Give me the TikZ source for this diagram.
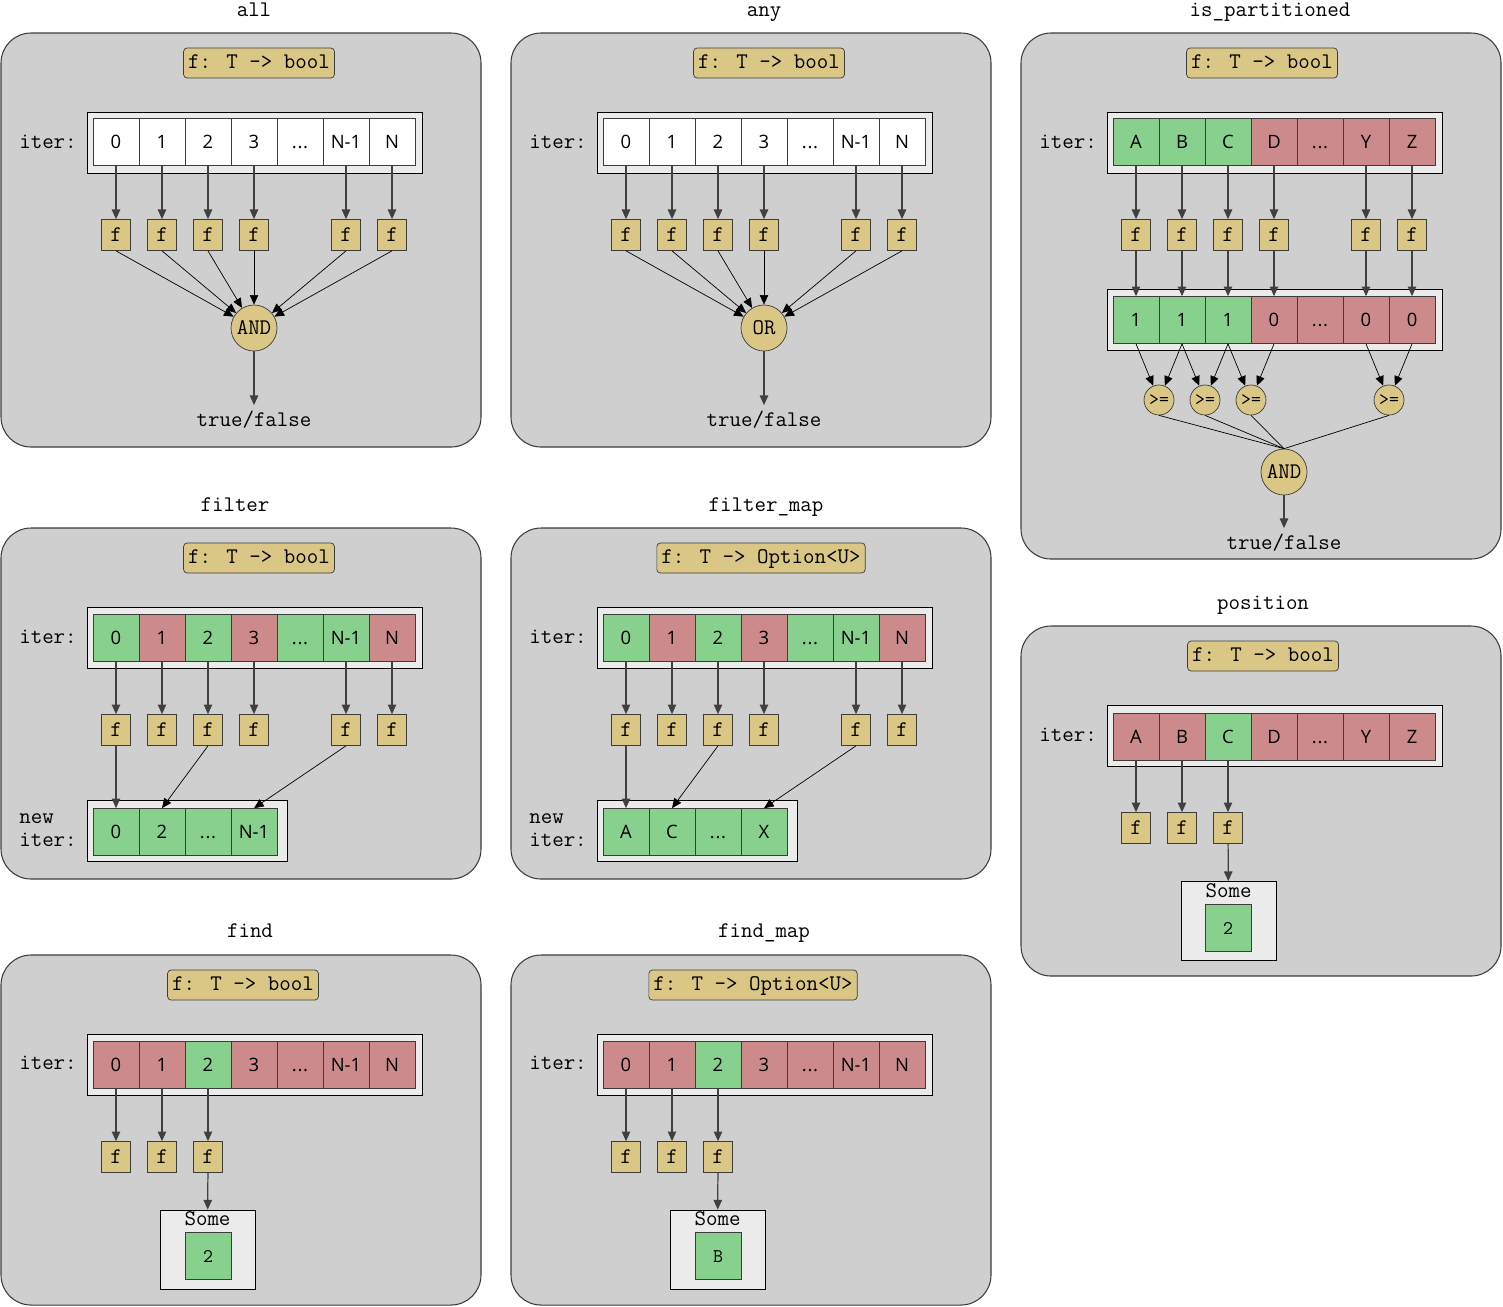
\documentclass[tikz,border=0pt]{standalone}
\usepackage{fontspec}
\newfontfamily\cellfont{Open Sans}
\usetikzlibrary{arrows.meta}

\definecolor{panelgray}{RGB}{207,207,207}
\definecolor{rowgray}{RGB}{235,235,235}
\definecolor{tanfill}{RGB}{218,199,133}
\definecolor{okgreen}{RGB}{136,208,141}
\definecolor{nored}{RGB}{205,138,138}
\definecolor{edgegray}{RGB}{60,60,60}

\newcommand\monotxt{\ttfamily\fontsize{12.7}{13}\selectfont}
\newcommand\dotcell{.\kern0.4pt.\kern0.4pt.}

\tikzset{
  panel/.style={draw=edgegray, fill=panelgray, rounded corners=0.6cm, line width=0.6pt},
  ttl/.style={font=\monotxt},
  sig/.style={draw=edgegray, fill=tanfill, rounded corners=2pt, minimum height=0.6cm, inner xsep=2.6pt, inner ysep=2.5pt, text height=8.5pt, text depth=2.5pt, font=\monotxt},
  rowbox/.style={draw=black, fill=rowgray, line width=0.5pt},
  cell/.style={draw=edgegray, minimum width=0.92cm, minimum height=0.94cm, inner sep=0pt, text height=7.6pt, text depth=0pt, font=\cellfont\fontsize{10.5}{12}\selectfont},
  fbox/.style={draw=edgegray, fill=tanfill, minimum width=0.58cm, minimum height=0.62cm, inner sep=0pt, font=\monotxt},
  opnode/.style={circle, draw=edgegray, fill=tanfill, minimum size=0.92cm, inner sep=0pt, font=\monotxt},
  genode/.style={circle, draw=edgegray, fill=tanfill, minimum size=0.6cm, inner sep=0pt, font=\ttfamily\fontsize{11}{12}\selectfont},
  somebox/.style={draw=black, fill=rowgray, line width=0.5pt, minimum width=1.9cm, minimum height=1.58cm},
  arr/.style={-{Triangle[length=5.5pt,width=4.8pt]}, draw=black!75, line width=0.7pt},
}

\begin{document}
\begin{tikzpicture}[x=0.02cm, y=-0.02cm]
  \useasboundingbox (0,0) rectangle (1503,1306);

  % all / any
  \foreach \id/\ttext/\dx/\optext in {a/all/0/AND, b/any/510/OR} {
    \begin{scope}[shift={(\dx,0)}]
      \draw[panel] (1,33) rectangle (481,447);
      \node[ttl, anchor=base] (\id title) at (254,16) {\ttext};
      \node[sig] (\id sig) at (259,63) {f: T -> bool};
      \node[ttl] (\id lbl) at (48,142) {iter:};
      \draw[rowbox] (87,112) rectangle (422,173);
      \foreach \t [count=\i from 0] in {0,1,2,3,\dotcell,N-1,N}
        \node[cell, fill=white] (\id c\i) at ({116+46*\i},142) {\t};
      \node[opnode] (\id op) at (254,328) {\optext};
      \node[ttl] (\id res) at (254,420) {true/false};
      \foreach \i in {0,1,2,3,5,6} {
        \node[fbox] (\id f\i) at ({116+46*\i},235) {f};
        \draw[arr] (\id c\i) -- (\id f\i);
        \draw[arr, thin, draw=black] (\id f\i.south) -- (\id op);
      }
      \draw[arr] (\id op) -- (\id res);
    \end{scope}
  }

  % is_partitioned
  \draw[panel] (1021,33) rectangle (1501,559);
  \node[ttl, anchor=base] (ptitle) at (1270,16) {is\_partitioned};
  \node[sig] (psig) at (1262,63) {f: T -> bool};
  \node[ttl] (plbl) at (1068,142) {iter:};
  \draw[rowbox] (1107,112) rectangle (1442,173);
  \foreach \t/\c [count=\i from 0] in {A/okgreen,B/okgreen,C/okgreen,D/nored,\dotcell/nored,Y/nored,Z/nored}
    \node[cell, fill=\c] (pc\i) at ({1136+46*\i},142) {\t};
  \draw[rowbox] (1107,289) rectangle (1442,350);
  \foreach \t/\c [count=\i from 0] in {1/okgreen,1/okgreen,1/okgreen,0/nored,\dotcell/nored,0/nored,0/nored}
    \node[cell, fill=\c] (pr\i) at ({1136+46*\i},320) {\t};
  \foreach \i in {0,1,2,3,5,6} {
    \node[fbox] (pf\i) at ({1136+46*\i},235) {f};
    \draw[arr] (pc\i) -- (pf\i);
    \draw[arr] (pf\i) -- (pr\i);
  }
  \node[opnode] (pand) at (1284,472) {AND};
  \node[ttl] (pres) at (1284,543) {true/false};
  \foreach \x [count=\k] in {1159,1205,1251,1389} {
    \node[genode] (pg\k) at (\x,400) {>=};
    \draw[thin] (pg\k.south) -- (pand.north);
  }
  \foreach \i/\k in {0/1,1/1,1/2,2/2,2/3,3/3,5/4,6/4}
    \draw[arr, thin, draw=black] (pr\i.south) -- (pg\k);
  \draw[arr] (pand) -- (pres);

  % filter / filter_map
  \foreach \id/\ttext/\dx/\tx/\sx/\sg/\nl in {c/filter/0/235/259/{f: T -> bool}/{0,2,\dotcell,N-1}, d/filter\_map/510/256/251/{f: T -> Option<U>}/{A,C,\dotcell,X}} {
    \begin{scope}[shift={(\dx,0)}]
      \draw[panel] (1,528) rectangle (481,879);
      \node[ttl, anchor=base] (\id title) at (\tx,511) {\ttext};
      \node[sig] (\id sig) at (\sx,558) {\sg};
      \node[ttl] (\id lbl) at (48,637) {iter:};
      \draw[rowbox] (87,607) rectangle (422,668);
      \foreach \t/\c [count=\i from 0] in {0/okgreen,1/nored,2/okgreen,3/nored,\dotcell/okgreen,N-1/okgreen,N/nored}
        \node[cell, fill=\c] (\id c\i) at ({116+46*\i},638) {\t};
      \node[ttl, align=left] (\id nlbl) at (48,830) {new\\iter:};
      \draw[rowbox] (87,800) rectangle (287,861);
      \foreach \t [count=\i from 0] in \nl
        \node[cell, fill=okgreen] (\id n\i) at ({116+46*\i},832) {\t};
      \foreach \i in {0,1,2,3,5,6} {
        \node[fbox] (\id f\i) at ({116+46*\i},730) {f};
        \draw[arr] (\id c\i) -- (\id f\i);
      }
      \draw[arr] (\id f0) -- (\id n0);
      \draw[arr, thin, draw=black] (\id f2.south) -- (\id n1.north);
      \draw[arr, thin, draw=black] (\id f5.south) -- (\id n3.north);
    \end{scope}
  }

  % position
  \draw[panel] (1021,626) rectangle (1501,976);
  \node[ttl, anchor=base] (qtitle) at (1263,609) {position};
  \node[sig] (qsig) at (1263,656) {f: T -> bool};
  \node[ttl] (qlbl) at (1068,735) {iter:};
  \draw[rowbox] (1107,705) rectangle (1442,766);
  \foreach \t/\c [count=\i from 0] in {A/nored,B/nored,C/okgreen,D/nored,\dotcell/nored,Y/nored,Z/nored}
    \node[cell, fill=\c] (qc\i) at ({1136+46*\i},737) {\t};
  \foreach \i in {0,1,2} {
    \node[fbox] (qf\i) at ({1136+46*\i},828) {f};
    \draw[arr] (qc\i) -- (qf\i);
  }
  \node[somebox] (qsome) at (1228.5,921) {};
  \node[ttl, anchor=north, inner sep=1pt] (qsomet) at (qsome.north) {Some};
  \node[cell, fill=okgreen, font=\ttfamily\fontsize{11}{12}\selectfont] (qval) at (1228,928) {2};
  \draw[arr] (qf2) -- (qsome);

  % find / find_map
  \foreach \id/\ttext/\dx/\tx/\sx/\sg/\val in {e/find/0/250/243/{f: T -> bool}/2, g/find\_map/510/254/243/{f: T -> Option<U>}/B} {
    \begin{scope}[shift={(\dx,0)}]
      \draw[panel] (1,955) rectangle (481,1305);
      \node[ttl, anchor=base] (\id title) at (\tx,937) {\ttext};
      \node[sig] (\id sig) at (\sx,985) {\sg};
      \node[ttl] (\id lbl) at (48,1063) {iter:};
      \draw[rowbox] (87,1034) rectangle (422,1095);
      \foreach \t/\c [count=\i from 0] in {0/nored,1/nored,2/okgreen,3/nored,\dotcell/nored,N-1/nored,N/nored}
        \node[cell, fill=\c] (\id c\i) at ({116+46*\i},1065) {\t};
      \foreach \i in {0,1,2} {
        \node[fbox] (\id f\i) at ({116+46*\i},1157) {f};
        \draw[arr] (\id c\i) -- (\id f\i);
      }
      \node[somebox] (\id some) at (207.5,1249.5) {};
      \node[ttl, anchor=north, inner sep=1pt] (\id somet) at (\id some.north) {Some};
      \node[cell, fill=okgreen, font=\ttfamily\fontsize{11}{12}\selectfont] (\id val) at (208,1256) {\val};
      \draw[arr] (\id f2) -- (\id some);
    \end{scope}
  }
\end{tikzpicture}
\end{document}
